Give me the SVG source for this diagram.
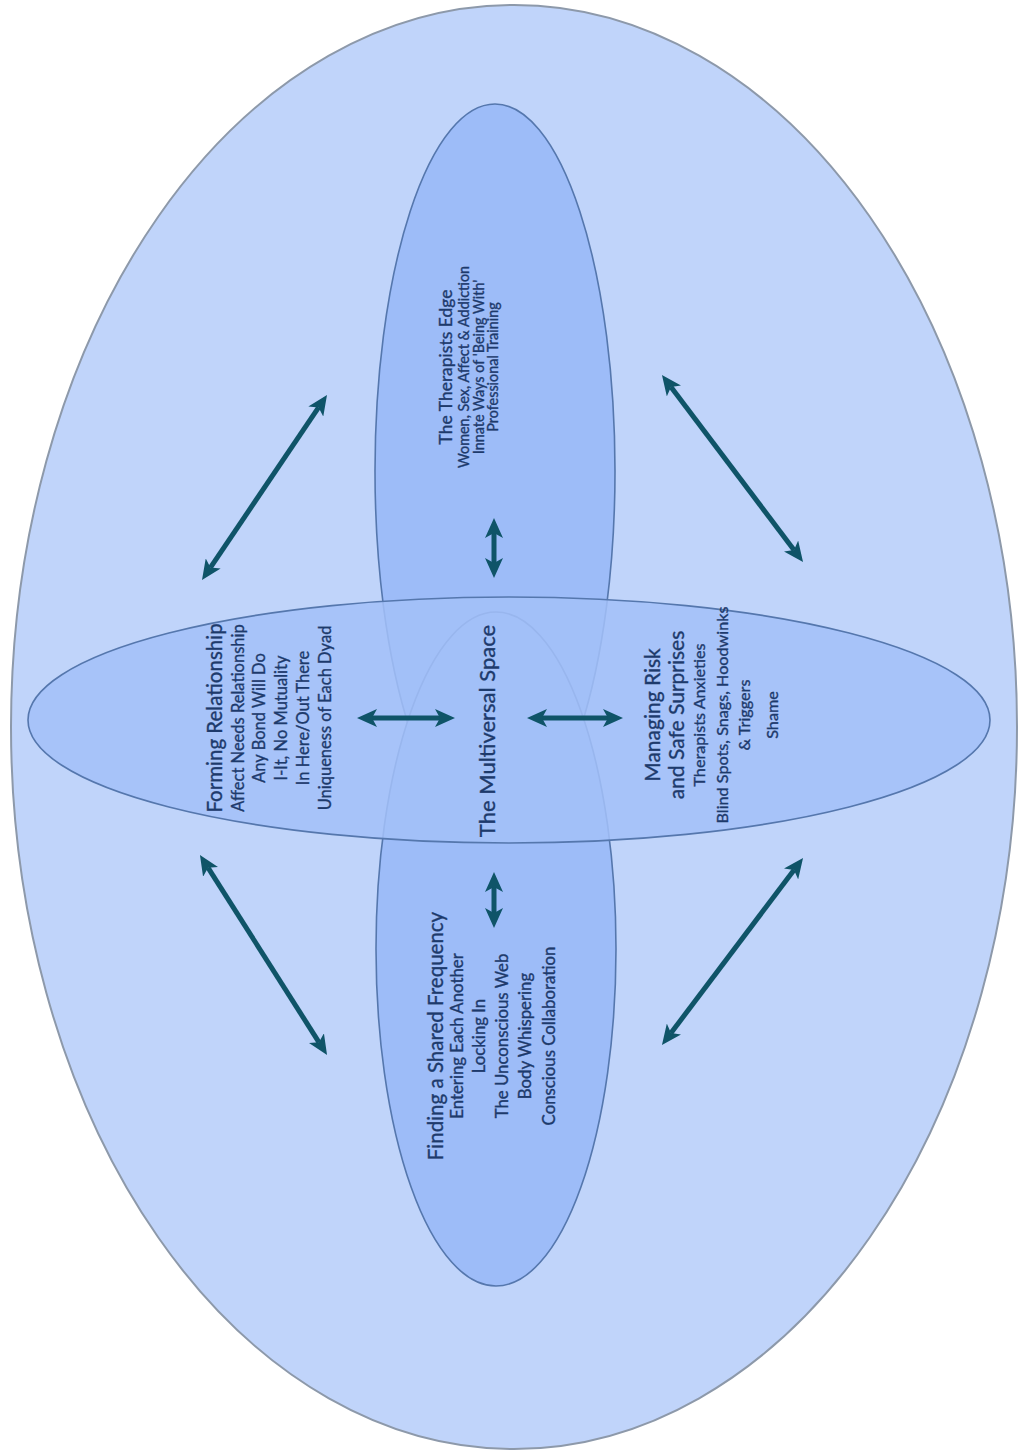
<svg xmlns="http://www.w3.org/2000/svg" width="1020" height="1454" viewBox="0 0 1020 1454">
<style>
.outer{fill:#c0d4fa;stroke:#8d99aa;stroke-width:2}
.vert{fill:#9dbcf8;stroke:#5577ad;stroke-width:1.6}
.horiz{fill:#a3c0f8;fill-opacity:0.86;stroke:#5577ad;stroke-width:1.6}
.t{font-family:Lato,"Open Sans","Liberation Sans",sans-serif;fill:#1d3a6c;stroke:#1d3a6c;stroke-width:0.35;text-anchor:middle}
.arr{stroke:#0f5468;stroke-width:5;fill:none;marker-start:url(#ah);marker-end:url(#ah)}
</style>
<defs>
<marker id="ah" viewBox="0 0 20 18" refX="5" refY="9" markerWidth="20" markerHeight="18" markerUnits="userSpaceOnUse" orient="auto-start-reverse">
<path d="M0,0 L20,9 L0,18 L5,9 Z" fill="#0f5468"/>
</marker>
</defs>
<g id="outer"><ellipse class="outer" cx="514" cy="727" rx="503" ry="722"/></g>
<g id="therapists-edge-shape"><ellipse class="vert" cx="495" cy="471" rx="120" ry="367"/></g>
<g id="shared-frequency-shape"><ellipse class="vert" cx="496" cy="949" rx="120" ry="337"/></g>
<g id="horizontal-shape"><ellipse class="horiz" cx="509" cy="720" rx="481" ry="123"/></g>
<g id="connectors">
<line class="arr" x1="210.4" y1="567.6" x2="318.6" y2="407.4"/>
<line class="arr" x1="671" y1="387" x2="794" y2="550"/>
<line class="arr" x1="208" y1="867.7" x2="319" y2="1042.3"/>
<line class="arr" x1="794" y1="870" x2="671" y2="1033"/>
<line class="arr" x1="494" y1="533" x2="494" y2="563"/>
<line class="arr" x1="494" y1="887" x2="494" y2="913"/>
<line class="arr" x1="372" y1="718" x2="440" y2="718"/>
<line class="arr" x1="542" y1="718" x2="608" y2="718"/>
</g>
<g id="forming-relationship" transform="translate(0,718) rotate(-90)">
<text class="t" font-size="20.5" x="0" y="222">Forming Relationship</text>
<text class="t" font-size="16.5" x="0" y="244">Affect Needs Relationship</text>
<text class="t" font-size="16.5" x="0" y="265">Any Bond Will Do</text>
<text class="t" font-size="16.5" x="0" y="287">I-It, No Mutuality</text>
<text class="t" font-size="16.5" x="0" y="309">In Here/Out There</text>
<text class="t" font-size="16.5" x="0" y="331">Uniqueness of Each Dyad</text>
</g>
<g id="therapists-edge" transform="translate(0,367) rotate(-90)">
<text class="t" font-size="17.5" x="0" y="452">The Therapists Edge</text>
<text class="t" font-size="14.4" x="0" y="469">Women, Sex, Affect &amp; Addiction</text>
<text class="t" font-size="14.4" x="0" y="484">Innate Ways of 'Being With'</text>
<text class="t" font-size="14.4" x="0" y="498">Professional Training</text>
</g>
<g id="multiversal-space" transform="translate(0,731) rotate(-90)">
<text class="t" font-size="22" x="0" y="495">The Multiversal Space</text>
</g>
<g id="shared-frequency" transform="translate(0,1036) rotate(-90)">
<text class="t" font-size="20.5" x="0" y="443">Finding a Shared Frequency</text>
<text class="t" font-size="16.8" x="0" y="463">Entering Each Another</text>
<text class="t" font-size="16.8" x="0" y="485">Locking In</text>
<text class="t" font-size="16.8" x="0" y="508">The Unconscious Web</text>
<text class="t" font-size="16.8" x="0" y="531">Body Whispering</text>
<text class="t" font-size="16.8" x="0" y="555">Conscious Collaboration</text>
</g>
<g id="managing-risk" transform="translate(0,715) rotate(-90)">
<text class="t" font-size="21" x="0" y="660">Managing Risk</text>
<text class="t" font-size="21" x="0" y="684">and Safe Surprises</text>
<text class="t" font-size="16.2" x="0" y="705">Therapists Anxieties</text>
<text class="t" font-size="16.2" x="0" y="728">Blind Spots, Snags, Hoodwinks</text>
<text class="t" font-size="16.2" x="0" y="750">&amp; Triggers</text>
<text class="t" font-size="16.2" x="0" y="778">Shame</text>
</g>
</svg>
